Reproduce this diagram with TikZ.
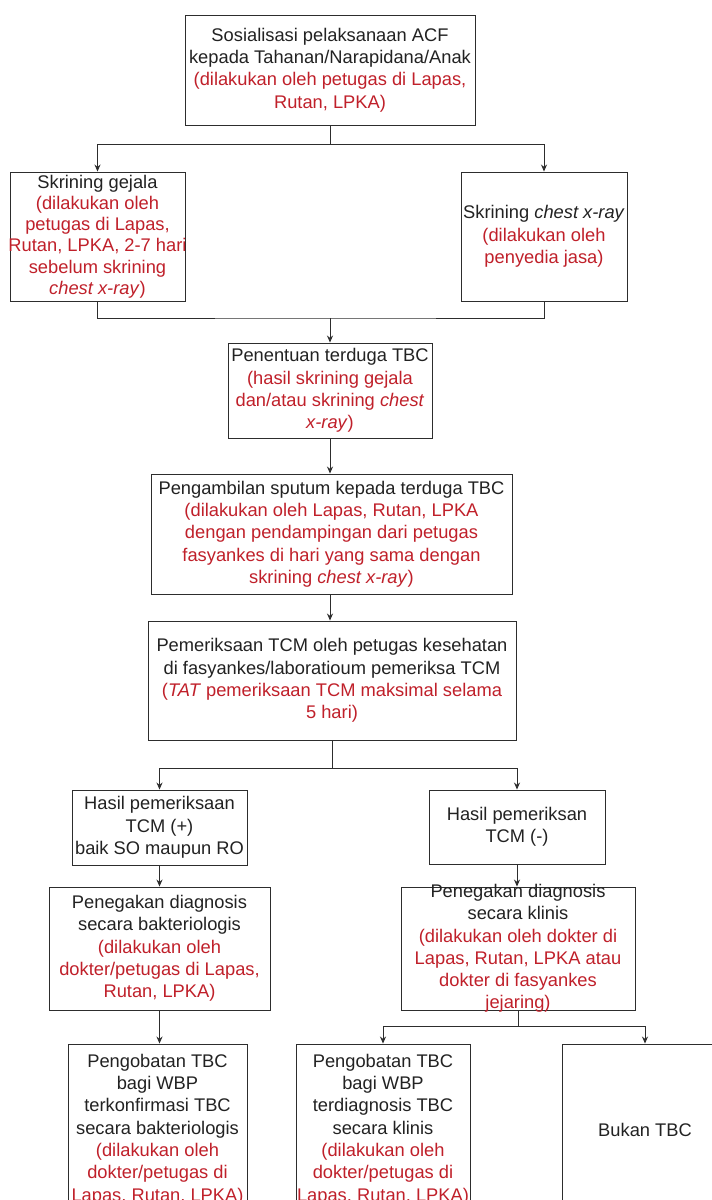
\documentclass[tikz,border=0pt]{standalone}
\usepackage{fontspec}
\setmainfont{Liberation Sans}
\usetikzlibrary{arrows.meta}
\definecolor{tred}{RGB}{192,32,42}
\definecolor{tdark}{RGB}{34,34,34}
\definecolor{lgray}{RGB}{45,45,45}
\newcommand\redt[1]{{\color{tred}#1}}
\begin{document}
\begin{tikzpicture}[x=1pt,y=-1pt,
  box/.style={draw=lgray,line width=0.9pt,inner sep=0pt,fill=white},
  txt/.style={text=tdark,align=center,inner sep=0pt,font=\fontsize{18.3}{22.3}\selectfont},
  tight/.style={font=\fontsize{18.3}{21.2}\selectfont},
  link/.style={draw=lgray,line width=0.9pt},
  arr/.style={link,-{Stealth[length=7pt,width=6pt]}}]
\useasboundingbox (0,0) rectangle (712,1200);
\clip (0,0) rectangle (712,1200);
\fill[white] (0,0) rectangle (712,1200);

\node[box,minimum width=290pt,minimum height=110pt,label={[txt]center:{Sosialisasi pelaksanaan ACF\\kepada Tahanan/Narapidana/Anak\\\redt{(dilakukan oleh petugas di Lapas,}\\\redt{Rutan, LPKA)}}}] (b1) at (330,70) {};

\node[box,minimum width=175pt,minimum height=129pt,label={[txt,tight]center:{Skrining gejala\\\redt{(dilakukan oleh}\\\redt{petugas di Lapas,}\\\redt{Rutan, LPKA, 2-7 hari}\\\redt{sebelum skrining}\\\redt{\textit{chest x-ray})}}}] (b2) at (97.5,236.5) {};

\node[box,minimum width=166pt,minimum height=129pt,label={[txt]center:{Skrining \textit{chest x-ray}\\\redt{(dilakukan oleh}\\\redt{penyedia jasa)}}}] (b3) at (544,236.5) {};

\node[box,minimum width=204pt,minimum height=95pt,label={[txt]center:{Penentuan terduga TBC\\\redt{(hasil skrining gejala}\\\redt{dan/atau skrining \textit{chest}}\\\redt{\textit{x-ray})}}}] (b4) at (330,390.5) {};

\node[box,minimum width=361pt,minimum height=120pt,label={[txt]center:{Pengambilan sputum kepada terduga TBC\\\redt{(dilakukan oleh Lapas, Rutan, LPKA}\\\redt{dengan pendampingan dari petugas}\\\redt{fasyankes di hari yang sama dengan}\\\redt{skrining \textit{chest x-ray})}}}] (b5) at (331.5,534) {};

\node[box,minimum width=368pt,minimum height=119pt,label={[txt]center:{Pemeriksaan TCM oleh petugas kesehatan\\di fasyankes/laboratioum pemeriksa TCM\\\redt{(\textit{TAT} pemeriksaan TCM maksimal selama}\\\redt{5 hari)}}}] (b6) at (332,680.5) {};

\node[box,minimum width=175pt,minimum height=75pt,label={[txt]center:{Hasil pemeriksaan\\TCM (+)\\baik SO maupun RO}}] (b7) at (159.5,827.5) {};

\node[box,minimum width=176pt,minimum height=74pt,label={[txt]center:{Hasil pemeriksan\\TCM (-)}}] (b8) at (517,827) {};

\node[box,minimum width=221pt,minimum height=123pt,label={[txt]center:{Penegakan diagnosis\\secara bakteriologis\\\redt{(dilakukan oleh}\\\redt{dokter/petugas di Lapas,}\\\redt{Rutan, LPKA)}}}] (b9) at (159.5,948.5) {};

\node[box,minimum width=234pt,minimum height=123pt,label={[txt]center:{Penegakan diagnosis\\secara klinis\\\redt{(dilakukan oleh dokter di}\\\redt{Lapas, Rutan, LPKA atau}\\\redt{dokter di fasyankes}\\\redt{jejaring)}}}] (b10) at (518,948.5) {};

\node[box,minimum width=179pt,minimum height=171pt,label={[txt]center:{Pengobatan TBC\\bagi WBP\\terkonfirmasi TBC\\secara bakteriologis\\\redt{(dilakukan oleh}\\\redt{dokter/petugas di}\\\redt{Lapas, Rutan, LPKA)}}}] (b11) at (157.5,1129.5) {};

\node[box,minimum width=174pt,minimum height=171pt,label={[txt]center:{Pengobatan TBC\\bagi WBP\\terdiagnosis TBC\\secara klinis\\\redt{(dilakukan oleh}\\\redt{dokter/petugas di}\\\redt{Lapas, Rutan, LPKA)}}}] (b12) at (383,1129.5) {};

\node[box,minimum width=166pt,minimum height=171pt,label={[txt]center:{Bukan TBC}}] (b13) at (645,1129.5) {};

% connectors
\draw[arr] (b1.south) -- ++(0,19) -| (b2.north);
\draw[arr] (b1.south) -- ++(0,19) -| (b3.north);
\coordinate (j1) at (330,318);
\draw[link] (b2.south) |- (j1) -| (b3.south);
\draw[arr] (j1) -- (b4.north);
\draw[arr] (b4.south) -- (b4.south |- b5.north);
\draw[arr] (b5.south -| b4.south) -- (b4.south |- b6.north);
\draw[arr] (b6.south) -- ++(0,28) -| (b7.north);
\draw[arr] (b6.south) -- ++(0,28) -| (b8.north);
\draw[arr] (b7.south) -- (b7.south |- b9.north);
\draw[arr] (b8.south) -- (b8.south |- b10.north);
\draw[arr] (b9.south) -- (b9.south |- b11.north);
\draw[arr] (b10.south) -- ++(0,16) -| (b12.north);
\draw[arr] (b10.south) -- ++(0,16) -| (b13.north);
\end{tikzpicture}
\end{document}
